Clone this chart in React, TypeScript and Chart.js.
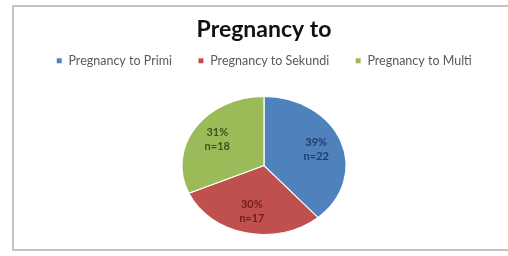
import React, { useEffect, useRef } from "react";
import { Chart, registerables, layouts } from "chart.js";

Chart.register(...registerables);

const TITLE = "Pregnancy to";
const CATEGORIES = ["Pregnancy to Primi", "Pregnancy to Sekundi", "Pregnancy to Multi"];
const COUNTS = [22, 17, 18];
const PERCENT_LABELS = ["39%", "30%", "31%"];
const COLORS = ["#4F81BD", "#C0504D", "#9BBB59"];
const LABEL_COLORS = ["#1F3D6E", "#6E1E1C", "#3E5220"];

const X_STRETCH = 1.19;
const LEGEND_GAP = 19;

const framePlugin = {
  id: "frame",
  beforeDraw(chart: any) {
    const ctx = chart.ctx;
    ctx.save();
    ctx.strokeStyle = "#c4c4c4";
    ctx.lineWidth = 2;
    ctx.strokeRect(13, 6, chart.width + 20, chart.height - 12);
    ctx.restore();
  },
};

const spacerPlugin = {
  id: "spacer",
  beforeInit(chart: any) {
    const box: any = {
      position: "top",
      weight: 500,
      fullSize: true,
      options: {},
      left: 0,
      top: 0,
      right: 0,
      bottom: 0,
      width: 0,
      height: 0,
      isHorizontal() {
        return true;
      },
      update(maxWidth: number) {
        this.width = maxWidth;
        this.height = LEGEND_GAP;
      },
      draw() {},
    };
    layouts.addBox(chart, box);
  },
};

const ellipsePlugin = {
  id: "ellipse",
  beforeDatasetsDraw(chart: any) {
    const meta = chart.getDatasetMeta(0);
    const a = meta.data[0];
    const ctx = chart.ctx;
    ctx.save();
    ctx.translate(a.x, a.y);
    ctx.scale(X_STRETCH, 1);
    ctx.translate(-a.x, -a.y);
  },
  afterDatasetsDraw(chart: any) {
    const ctx = chart.ctx;
    ctx.restore();
    const meta = chart.getDatasetMeta(0);
    ctx.save();
    ctx.font = "bold 11px Lato";
    ctx.textAlign = "center";
    ctx.textBaseline = "middle";
    meta.data.forEach((arc: any, i: number) => {
      const mid = (arc.startAngle + arc.endAngle) / 2;
      const r = arc.outerRadius * 0.68;
      const x = arc.x + Math.cos(mid) * r * X_STRETCH;
      const y = arc.y + Math.sin(mid) * r;
      ctx.fillStyle = LABEL_COLORS[i];
      ctx.fillText(PERCENT_LABELS[i], x, y - 7);
      ctx.fillText("n=" + COUNTS[i], x, y + 7);
    });
    ctx.restore();
  },
};

export default function App() {
  const ref = useRef<HTMLCanvasElement>(null);
  useEffect(() => {
    if (!ref.current) return;
    const chart = new Chart(ref.current, {
      type: "pie",
      data: {
        labels: CATEGORIES,
        datasets: [
          {
            data: COUNTS,
            backgroundColor: COLORS,
            borderColor: "#ffffff",
            borderWidth: 1,
          },
        ],
      },
      options: {
        animation: false,
        responsive: true,
        maintainAspectRatio: false,
        layout: { padding: { left: 20, bottom: 21, top: 0 } },
        plugins: {
          title: {
            display: true,
            text: TITLE,
            color: "#111",
            font: { family: "Lato", size: 23, weight: "bold" },
            padding: { top: 16, bottom: -15 },
          },
          legend: {
            display: true,
            position: "top",
            labels: {
              color: "#595959",
              font: { family: "Lato", size: 12.5 },
              boxWidth: 6,
              boxHeight: 6,
              padding: 26,
            },
          },
          tooltip: { enabled: false },
        },
      },
      plugins: [framePlugin, spacerPlugin, ellipsePlugin],
    });
    return () => chart.destroy();
  }, []);
  return (
    <div style={{ position: "fixed", left: 0, top: 0, width: 508, height: 256, background: "#fff" }}>
      <canvas ref={ref} />
    </div>
  );
}
